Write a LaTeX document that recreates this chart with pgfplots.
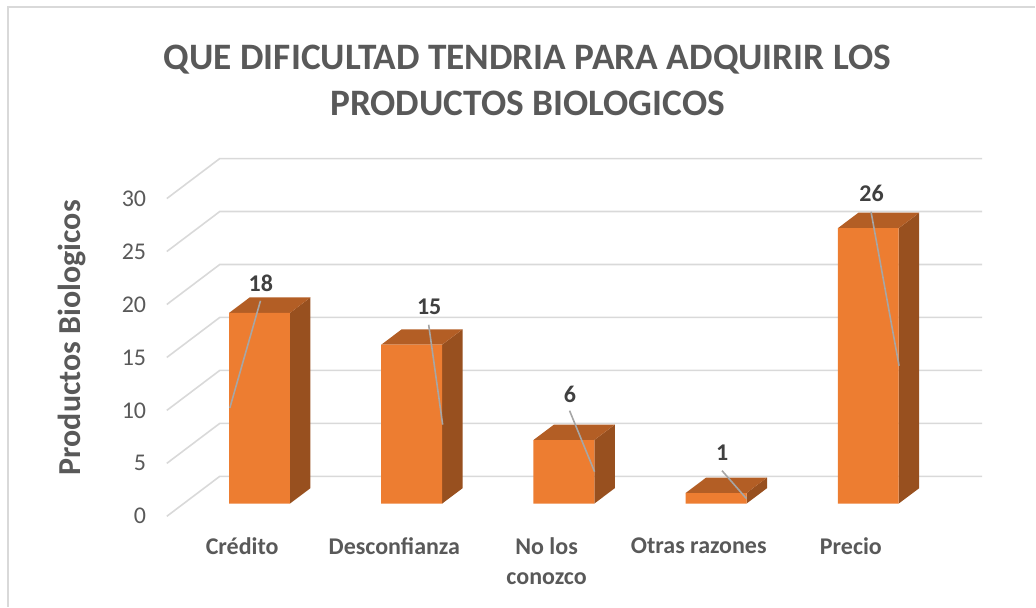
\documentclass[border=0pt]{standalone}
\usepackage{fontspec}
\setmainfont{Carlito}
\usepackage{pgfplots}
\pgfplotsset{compat=1.18}
\definecolor{barfront}{HTML}{ED7D31}
\definecolor{bartop}{HTML}{B35E25}
\definecolor{barside}{HTML}{98501F}
\definecolor{gridgray}{HTML}{D9D9D9}
\definecolor{leadgray}{HTML}{A6A6A6}
\definecolor{txtgray}{HTML}{595959}
\definecolor{lblgray}{HTML}{404040}
% reference pixels to axis coordinates (bar base = 0, bar spacing = 1)
\newcommand{\px}[2]{axis cs:{(#1-259.7)/152.3},{(504-#2)/10.6}}
% side and top of one bar: index, value
\newcommand{\barfaces}[2]{%
  \addplot[draw=none,fill=barside] coordinates {(#1+0.2,0) (#1+0.335,1.46) (#1+0.335,#2+1.46) (#1+0.2,#2)} -- cycle;
  \addplot[draw=none,fill=bartop] coordinates {(#1-0.2,#2) (#1+0.2,#2) (#1+0.335,#2+1.46) (#1-0.065,#2+1.46)} -- cycle;
}
% one grid line of the 3D frame: tick value
\newcommand{\gridthree}[1]{%
  \addplot[gridgray,line width=1.2pt] coordinates {(-0.609,#1-1.2) (-0.261,#1+2.575) (4.748,#1+2.575)};
}
\begin{document}
\begin{tikzpicture}
\begin{axis}[
    scale only axis,
    width=777pt,
    height=455.25pt,
    at={(0,0)},
    xmin=-1.705,xmax=5.097,
    ymin=-9.717,ymax=47.547,
    clip=false,
    axis line style={draw=none},
    tick style={draw=none},
    xtick={0,1,2,3,4},
    xticklabels={Crédito,Desconfianza,No los\\conozco,Otras razones,Precio},
    x tick label style={font=\fontsize{18}{23}\selectfont\bfseries,text=txtgray,align=center,anchor=north,xshift=-13pt,yshift=55.5pt},
    ytick={0,5,10,15,20,25,30},
    y tick label style={font=\fontsize{18}{20}\selectfont,text=txtgray,anchor=east,xshift=113.2pt,yshift=-9.5pt},
    /pgf/number format/assume math mode=true,
    title={QUE DIFICULTAD TENDRIA PARA ADQUIRIR LOS\\PRODUCTOS BIOLOGICOS},
    title style={at={(\px{528}{88})},anchor=center,align=center,font=\fontsize{28}{34.5}\selectfont\bfseries,text=txtgray},
    ylabel={Productos Biologicos},
    every axis y label/.style={at={(\px{72.5}{338})},rotate=90,anchor=center,font=\fontsize{24}{25}\selectfont\bfseries,text=txtgray},
]
% chart frame
\addplot[gridgray,line width=1.2pt] coordinates {(-1.652,-9.717) (-1.652,46.887) (5.097,46.887)};
\gridthree{0}
\gridthree{5}
\gridthree{10}
\gridthree{15}
\gridthree{20}
\gridthree{25}
\gridthree{30}
\barfaces{0}{18}
\barfaces{1}{15}
\barfaces{2}{6}
\barfaces{3}{1}
\barfaces{4}{26}
\addplot[ybar,bar width=45.75pt,bar shift=0pt,draw=none,fill=barfront] coordinates {(0,18) (1,15) (2,6) (3,1) (4,26)};
% leader lines
\draw[leadgray,line width=1.2pt] (\px{260.7}{301}) -- (\px{230}{408.3});
\draw[leadgray,line width=1.2pt] (\px{429}{325}) -- (\px{443}{425});
\draw[leadgray,line width=1.2pt] (\px{570}{411}) -- (\px{595}{472});
\draw[leadgray,line width=1.2pt] (\px{722.5}{471}) -- (\px{747}{499});
\draw[leadgray,line width=1.2pt] (\px{871.7}{212}) -- (\px{899.7}{366});
% data labels
\tikzset{dlabel/.style={font=\fontsize{18}{20}\selectfont\bfseries,text=lblgray,anchor=center}}
\node[dlabel] at (\px{261}{283.5}) {18};
\node[dlabel] at (\px{429.5}{307}) {15};
\node[dlabel] at (\px{570.5}{394.5}) {6};
\node[dlabel] at (\px{722.8}{453}) {1};
\node[dlabel] at (\px{872.2}{193.5}) {26};
\end{axis}
\end{tikzpicture}
\end{document}
